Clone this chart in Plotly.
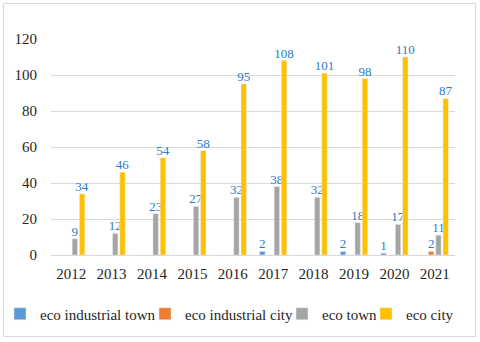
import plotly.graph_objects as go

years = ["2012", "2013", "2014", "2015", "2016", "2017", "2018", "2019", "2020", "2021"]
eco_industrial_town = [0, 0, 0, 0, 0, 2, 0, 2, 1, 0]
eco_industrial_city = [0, 0, 0, 0, 0, 0, 0, 0, 0, 2]
eco_town = [9, 12, 23, 27, 32, 38, 32, 18, 17, 11]
eco_city = [34, 46, 54, 58, 95, 108, 101, 98, 110, 87]
y_ticks = [0, 20, 40, 60, 80, 100, 120]

series = [
    ("eco industrial town", eco_industrial_town, "#5B9BD5", 100),
    ("eco industrial city", eco_industrial_city, "#ED7D31", 92),
    ("eco town", eco_town, "#A5A5A5", 39),
    ("eco city", eco_city, "#FFC000", 48),
]

FONT = "Liberation Serif"
LABEL_COLOR = "#2E7BC4"
TEXT_COLOR = "#262626"

L, R, T, B = 51, 25, 39, 87
W, H = 480, 342
PW, PH = W - L - R, H - T - B


def px_x(px):
    return (px - L) / PW


def px_y(py):
    return (H - B - py) / PH


fig = go.Figure()
for name, vals, col, lw in series:
    fig.add_trace(go.Bar(
        x=years, y=vals, name=name, marker_color=col,
        text=[str(v) if v else "" for v in vals],
        textposition="outside", constraintext="none", cliponaxis=False,
        textfont=dict(family=FONT, size=13, color=LABEL_COLOR),
        legendwidth=lw,
    ))

fig.update_layout(
    width=W, height=H,
    margin=dict(l=L, r=R, t=T, b=B, autoexpand=False),
    paper_bgcolor="white", plot_bgcolor="white",
    barmode="group", bargap=0.28, bargroupgap=0.26,
    font=dict(family=FONT, size=15, color=TEXT_COLOR),
    showlegend=True,
    legend=dict(orientation="h", x=px_x(0), xanchor="left", y=px_y(314), yanchor="middle",
                font=dict(family=FONT, size=15, color=TEXT_COLOR),
                itemwidth=30, tracegroupgap=0, bgcolor="rgba(0,0,0,0)"),
    xaxis=dict(showgrid=False, showline=True, linecolor="#D9D9D9", linewidth=1,
               ticks="", tickfont=dict(family=FONT, size=15), ticklabelstandoff=5),
    yaxis=dict(range=[0, 120], tickvals=y_ticks, showgrid=True, gridcolor="#D9D9D9",
               gridwidth=1, zeroline=False, ticks="", tickfont=dict(family=FONT, size=15),
               ticklabelstandoff=13),
    shapes=[dict(type="rect", xref="paper", yref="paper",
                 x0=px_x(3.5), x1=px_x(475.5), y0=px_y(336.5), y1=px_y(3.5),
                 line=dict(color="#D9D9D9", width=1), fillcolor="rgba(0,0,0,0)",
                 layer="below")],
)

fig.write_html("out.html", config={"displayModeBar": False},
               post_script="document.body.style.margin='0';")
